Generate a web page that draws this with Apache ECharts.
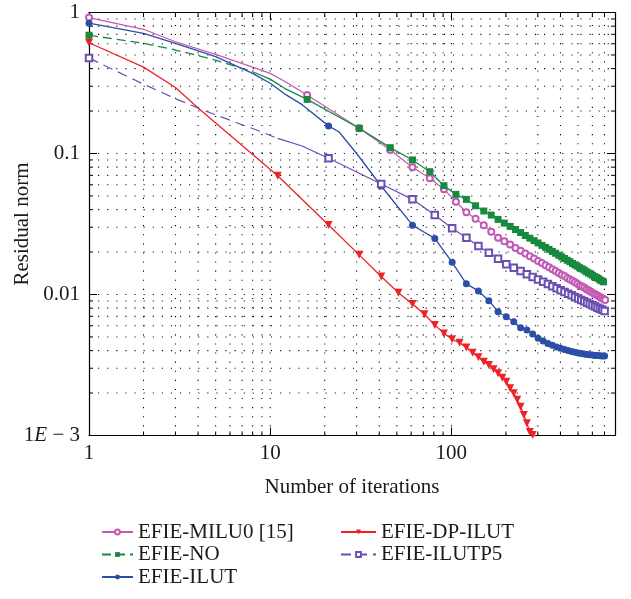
<!DOCTYPE html>
<html>
<head>
<meta charset="utf-8">
<script src="https://cdn.jsdelivr.net/npm/echarts@6/dist/echarts.min.js"></script>
<style>
  html, body { margin: 0; padding: 0; background: #fff; }
  #chart { width: 631px; height: 599px; }
</style>
</head>
<body>
<div id="chart"></div>
<script>
// residual norm vs iteration ([iteration, norm])
var miluData = [[1,0.92],[2,0.76],[3,0.62],[5,0.505],[8,0.41],[10,0.37],[12,0.325],[16,0.26],[31,0.151],[46,0.106],[61,0.080],[76,0.0667],[91,0.0557],[106,0.0455],[121,0.0383],[136,0.0345],[151,0.031],[166,0.0279],[181,0.0253],[196,0.0239],[211,0.0226],[226,0.0214],[241,0.0204],[256,0.0195],[271,0.0187],[286,0.0180],[301,0.0173],[316,0.0167],[331,0.0161],[346,0.0156],[361,0.0151],[376,0.0147],[391,0.0142],[406,0.0138],[421,0.0135],[436,0.0131],[451,0.0128],[466,0.0125],[481,0.0122],[496,0.0119],[511,0.0116],[526,0.0114],[541,0.0112],[556,0.0109],[571,0.0107],[586,0.0105],[601,0.0103],[616,0.0101],[631,0.00995],[646,0.00977],[661,0.00961],[676,0.00945],[691,0.00929],[706,0.00914]];

var noData = [[1,0.69],[2,0.605],[3,0.542],[5,0.46],[8,0.38],[10,0.337],[12,0.29],[16,0.242],[31,0.151],[46,0.11],[61,0.09],[76,0.0743],[91,0.0591],[106,0.0513],[121,0.0473],[136,0.0426],[151,0.0391],[166,0.0366],[181,0.0341],[196,0.0321],[211,0.0304],[226,0.0289],[241,0.0275],[256,0.0262],[271,0.0251],[286,0.0241],[301,0.0232],[316,0.0223],[331,0.0216],[346,0.0209],[361,0.0202],[376,0.0196],[391,0.0190],[406,0.0185],[421,0.0180],[436,0.0175],[451,0.0171],[466,0.0166],[481,0.0162],[496,0.0159],[511,0.0155],[526,0.0152],[541,0.0149],[556,0.0145],[571,0.0142],[586,0.0140],[601,0.0137],[616,0.0134],[631,0.0132],[646,0.0130],[661,0.0127],[676,0.0125],[691,0.0123]];

var ilutData = [[1,0.84],[2,0.71],[3,0.605],[5,0.486],[8,0.37],[10,0.315],[12,0.265],[15,0.222],[21,0.157],[24,0.142],[30,0.100],[35,0.077],[41,0.0588],[61,0.031],[81,0.025],[101,0.0169],[121,0.0119],[141,0.0106],[161,0.00904],[181,0.00755],[201,0.00696],[221,0.0064],[241,0.00582],[261,0.0056],[281,0.00525],[301,0.00489],[321,0.00468],[341,0.0045],[361,0.00437],[381,0.00425],[401,0.00415],[421,0.00407],[441,0.004],[461,0.00394],[481,0.00389],[501,0.00385],[521,0.00381],[541,0.00378],[561,0.00376],[581,0.00374],[601,0.00372],[621,0.0037],[641,0.00369],[661,0.00368],[681,0.00367],[701,0.00366]];

var dpData = [[1,0.61],[2,0.41],[3,0.294],[4,0.21],[11,0.0696],[21,0.0311],[31,0.0191],[41,0.0134],[51,0.0103],[61,0.00857],[71,0.00724],[81,0.00608],[91,0.0053],[101,0.00481],[111,0.00455],[121,0.0042],[131,0.00387],[141,0.00359],[151,0.00334],[161,0.00316],[171,0.00295],[181,0.00276],[191,0.00257],[201,0.00241],[211,0.00216],[221,0.00199],[231,0.00179],[241,0.0016],[251,0.0014],[261,0.00122],[271,0.00106],[281,0.00101],[291,0.00099],[301,0.00096]];

var ilutpData = [[1,0.475],[2,0.31],[3,0.245],[4,0.21],[5,0.188],[7,0.16],[9,0.142],[11,0.128],[15,0.113],[21,0.0925],[41,0.0608],[61,0.0473],[81,0.0366],[101,0.0295],[121,0.0253],[141,0.0221],[161,0.0198],[181,0.0179],[201,0.0164],[221,0.01545],[241,0.01466],[261,0.01393],[281,0.01333],[301,0.0128],[321,0.0123],[341,0.01186],[361,0.01143],[381,0.01107],[401,0.01074],[421,0.01042],[441,0.01014],[461,0.00986],[481,0.00961],[501,0.00938],[521,0.00915],[541,0.00895],[561,0.00875],[581,0.00857],[601,0.00839],[621,0.00822],[641,0.00807],[661,0.00793],[681,0.00778],[701,0.00764]];

// dotted grid positions
var gridX = [2,3,4,5,6,7,8,9,10,20,30,40,50,60,70,80,90,100,200,300,400,500,600,700];
var gridY = [0.002,0.003,0.004,0.005,0.006,0.007,0.008,0.009,0.01,0.02,0.03,0.04,0.05,0.06,0.07,0.08,0.09,0.1,0.2,0.3,0.4,0.5,0.6,0.7,0.8,0.9];

var X_MIN = 1, X_MAX = 800, Y_MIN = 0.001, Y_MAX = 1;
var FONT = 'Liberation Serif';
var FS = 21;

function isDecade(v) {
  var l = Math.log10(v);
  return Math.abs(l - Math.round(l)) < 1e-6;
}

// marker only every `step` iterations, like the original plot
function toItems(pairs, step) {
  return pairs.map(function (p) {
    var item = { value: p };
    if ((p[0] - 1) % step !== 0) item.symbol = 'none';
    return item;
  });
}

var dotStyle = { stroke: '#000', lineWidth: 1.1, lineDash: [1.1, 8] };
var tickStyle = { stroke: '#000', lineWidth: 1 };

function renderGridX(params, api) {
  var v = api.value(0);
  var b = api.coord([v, Y_MIN]);
  var t = api.coord([v, Y_MAX]);
  var ch = [{ type: 'line', shape: { x1: b[0], y1: b[1], x2: t[0], y2: t[1] }, style: dotStyle }];
  if (!isDecade(v)) {
    ch.push({ type: 'line', shape: { x1: b[0], y1: b[1], x2: b[0], y2: b[1] - 4 }, style: tickStyle });
    ch.push({ type: 'line', shape: { x1: t[0], y1: t[1], x2: t[0], y2: t[1] + 4 }, style: tickStyle });
  }
  return { type: 'group', children: ch };
}

function renderGridY(params, api) {
  var v = api.value(1);
  var l = api.coord([X_MIN, v]);
  var r = api.coord([X_MAX, v]);
  var ch = [{ type: 'line', shape: { x1: l[0], y1: l[1], x2: r[0], y2: r[1] }, style: dotStyle }];
  if (!isDecade(v)) {
    ch.push({ type: 'line', shape: { x1: l[0], y1: l[1], x2: l[0] + 4, y2: l[1] }, style: tickStyle });
    ch.push({ type: 'line', shape: { x1: r[0], y1: r[1], x2: r[0] - 4, y2: r[1] }, style: tickStyle });
  }
  return { type: 'group', children: ch };
}

var chart = echarts.init(document.getElementById('chart'));

var axisLine = { lineStyle: { color: '#000', width: 1.2 } };
var axisTick = { inside: true, length: 8, lineStyle: { color: '#000', width: 1 } };

var legendText = { fontFamily: FONT, fontSize: FS, color: '#1a1a1a', lineHeight: 22 };

var option = {
  animation: false,
  backgroundColor: '#fff',
  grid: { left: 89, right: 16, top: 12.5, bottom: 163.5, containLabel: false, outerBoundsMode: 'none' },
  legend: [
    {
      data: ['EFIE-MILU0 [15]', 'EFIE-NO', 'EFIE-ILUT'],
      orient: 'vertical', left: 96, top: 516,
      itemWidth: 31, itemHeight: 6, itemGap: 0.5,
      textStyle: legendText, selectedMode: false
    },
    {
      data: ['EFIE-DP-ILUT', 'EFIE-ILUTP5'],
      orient: 'vertical', left: 335, top: 516,
      itemWidth: 35, itemHeight: 6, itemGap: 0.5,
      textStyle: legendText, selectedMode: false
    }
  ],
  xAxis: [
    {
      type: 'log', logBase: 10, min: X_MIN, max: X_MAX, position: 'bottom',
      axisLine: axisLine, axisTick: axisTick, splitLine: { show: false },
      axisLabel: {
        fontFamily: FONT, fontSize: FS, color: '#1a1a1a', margin: 7,
        formatter: function (v) { return isDecade(v) ? String(Math.round(v)) : ''; }
      },
      name: 'Number of iterations', nameLocation: 'middle', nameGap: 41, nameMoveOverlap: false,
      nameTextStyle: { fontFamily: FONT, fontSize: FS, color: '#1a1a1a' }
    },
    {
      type: 'log', logBase: 10, min: X_MIN, max: X_MAX, position: 'top',
      axisLine: axisLine, axisTick: axisTick, splitLine: { show: false },
      axisLabel: { show: false }
    }
  ],
  yAxis: [
    {
      type: 'log', logBase: 10, min: Y_MIN, max: Y_MAX, position: 'left',
      axisLine: axisLine, axisTick: axisTick, splitLine: { show: false },
      axisLabel: {
        fontFamily: FONT, fontSize: FS, color: '#1a1a1a', margin: 9,
        formatter: function (v) {
          if (Math.abs(v - 0.001) < 1e-9) return '{n|1}{i|E}{n| \u2212 3}';
          if (Math.abs(v - 0.01) < 1e-9) return '{n|0.01}';
          if (Math.abs(v - 0.1) < 1e-9) return '{n|0.1}';
          if (Math.abs(v - 1) < 1e-9) return '{n|1}';
          return '';
        },
        rich: {
          n: { fontFamily: FONT, fontSize: FS, color: '#1a1a1a' },
          i: { fontFamily: FONT, fontSize: FS, fontStyle: 'italic', color: '#1a1a1a' }
        }
      },
      name: 'Residual norm', nameLocation: 'middle', nameGap: 56, nameMoveOverlap: false,
      nameTextStyle: { fontFamily: FONT, fontSize: FS, color: '#1a1a1a' }
    },
    {
      type: 'log', logBase: 10, min: Y_MIN, max: Y_MAX, position: 'right',
      axisLine: axisLine, axisTick: axisTick, splitLine: { show: false },
      axisLabel: { show: false }
    }
  ],
  series: [
    {
      type: 'custom', silent: true, z: 1, renderItem: renderGridX,
      data: gridX.map(function (v) { return [v, Y_MIN]; })
    },
    {
      type: 'custom', silent: true, z: 1, renderItem: renderGridY,
      data: gridY.map(function (v) { return [X_MIN, v]; })
    },
    {
      name: 'EFIE-MILU0 [15]', type: 'line', z: 3,
      data: toItems(miluData, 15),
      symbol: 'emptyCircle', symbolSize: 6, color: '#c25ab5',
      lineStyle: { width: 1.2 }, itemStyle: { borderWidth: 1.1 }
    },
    {
      name: 'EFIE-NO', type: 'line', z: 3,
      data: toItems(noData.filter(function (p) { return p[0] <= 8; }), 15),
      symbol: 'rect', symbolSize: 7, color: '#178a3e',
      lineStyle: { width: 1.3, type: [9, 5] }
    },
    {
      name: 'EFIE-NO', type: 'line', z: 3,
      data: toItems(noData.filter(function (p) { return p[0] >= 8; }), 15),
      symbol: 'rect', symbolSize: 7, color: '#178a3e',
      lineStyle: { width: 1.3 }
    },
    {
      name: 'EFIE-ILUT', type: 'line', z: 3,
      data: toItems(ilutData, 20),
      symbol: 'circle', symbolSize: 7, color: '#2b4ea6',
      lineStyle: { width: 1.3 }
    },
    {
      name: 'EFIE-DP-ILUT', type: 'line', z: 3,
      data: toItems(dpData, 10),
      symbol: 'triangle', symbolRotate: 180, symbolSize: 8, color: '#ec2227',
      lineStyle: { width: 1.3 }
    },
    {
      name: 'EFIE-ILUTP5', type: 'line', z: 3,
      data: toItems(ilutpData.filter(function (p) { return p[0] <= 11; }), 20),
      symbol: 'emptyRect', symbolSize: 6.5, color: '#6b4fb2',
      lineStyle: { width: 1.2, type: [10, 6] }, itemStyle: { borderWidth: 1.1 }
    },
    {
      name: 'EFIE-ILUTP5', type: 'line', z: 3,
      data: toItems(ilutpData.filter(function (p) { return p[0] >= 11; }), 20),
      symbol: 'emptyRect', symbolSize: 6.5, color: '#6b4fb2',
      lineStyle: { width: 1.2 }, itemStyle: { borderWidth: 1.1 }
    }
  ]
};

chart.setOption(option);
window.onresize = chart.resize;
</script>
</body>
</html>
